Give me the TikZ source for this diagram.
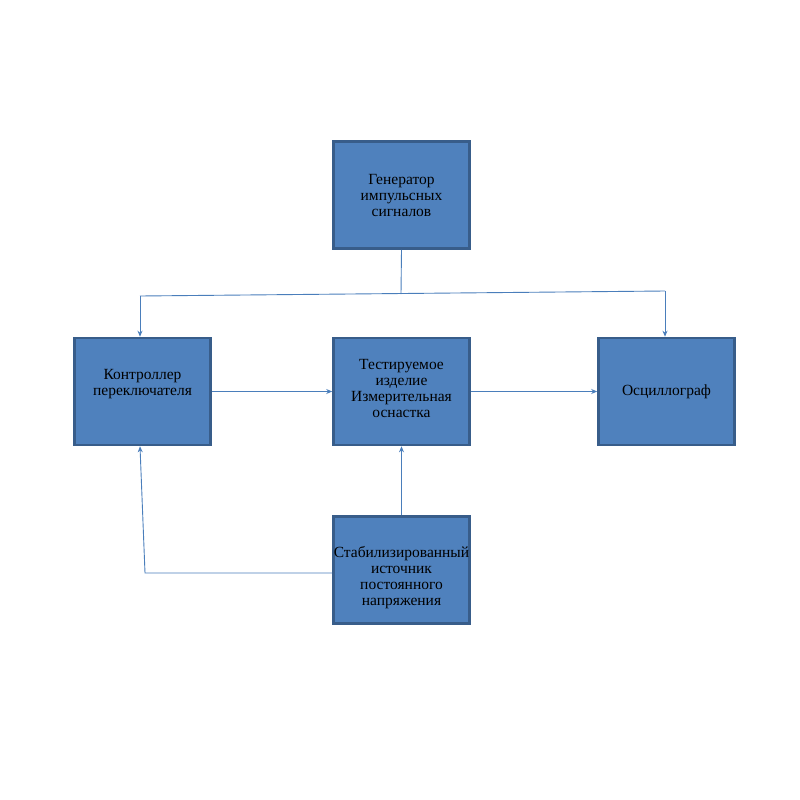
\documentclass[tikz,border=0pt]{standalone}
\usepackage{fontspec}
\setmainfont{Liberation Serif}
\usetikzlibrary{arrows.meta}
\definecolor{boxfill}{HTML}{4F81BD}
\definecolor{boxedge}{HTML}{385D8A}
\definecolor{wire}{HTML}{4A7EBB}
\tikzset{
  block/.style={draw=boxedge, line width=2.6pt, fill=boxfill, minimum width=136pt,
    minimum height=107pt},
  caption/.style={align=center, font=\fontsize{15.5}{16}\selectfont, inner sep=0pt},
  link/.style={draw=wire, line width=0.9pt, -{Stealth[length=6pt,width=5pt]}},
  wire/.style={draw=wire, line width=0.9pt}
}
\begin{document}
\begin{tikzpicture}[x=1pt,y=-1pt]
\useasboundingbox (0,0) rectangle (800,800);

\node[block, label={[caption]center:Генератор\\импульсных\\сигналов}] (gen) at (401.5,195) {};
\node[block, label={[caption, yshift=7pt]center:Контроллер\\переключателя}] (ctrl) at (142.5,391.5) {};
\node[block, label={[caption, yshift=3pt]center:Тестируемое\\изделие\\Измерительная\\оснастка}] (test) at (401.5,391.5) {};
\node[block, label={[caption]center:Осциллограф}] (osc) at (666.5,391.5) {};
\node[block, label={[caption, yshift=-8pt]center:Стабилизированный\\источник\\постоянного\\напряжения}] (pwr) at (401.5,570) {};

\coordinate (busL) at (140,296);
\coordinate (busM) at (401,294);
\coordinate (busR) at (665,291);
\coordinate (bend) at (145,573);

\draw[wire] (gen.south) -- (busM);
\draw[wire] (busL) -- (busR);
\draw[link] (busL) -- (ctrl.north -| busL);
\draw[link] (busR) -- (osc.north -| busR);

\draw[link] (ctrl.east) -- (test.west);
\draw[link] (test.east) -- (osc.west);

\draw[link] (pwr.north) -- (test.south);
\draw[link] (pwr.west |- bend) -- (bend) -- (ctrl.south -| 140,0);

\end{tikzpicture}
\end{document}
